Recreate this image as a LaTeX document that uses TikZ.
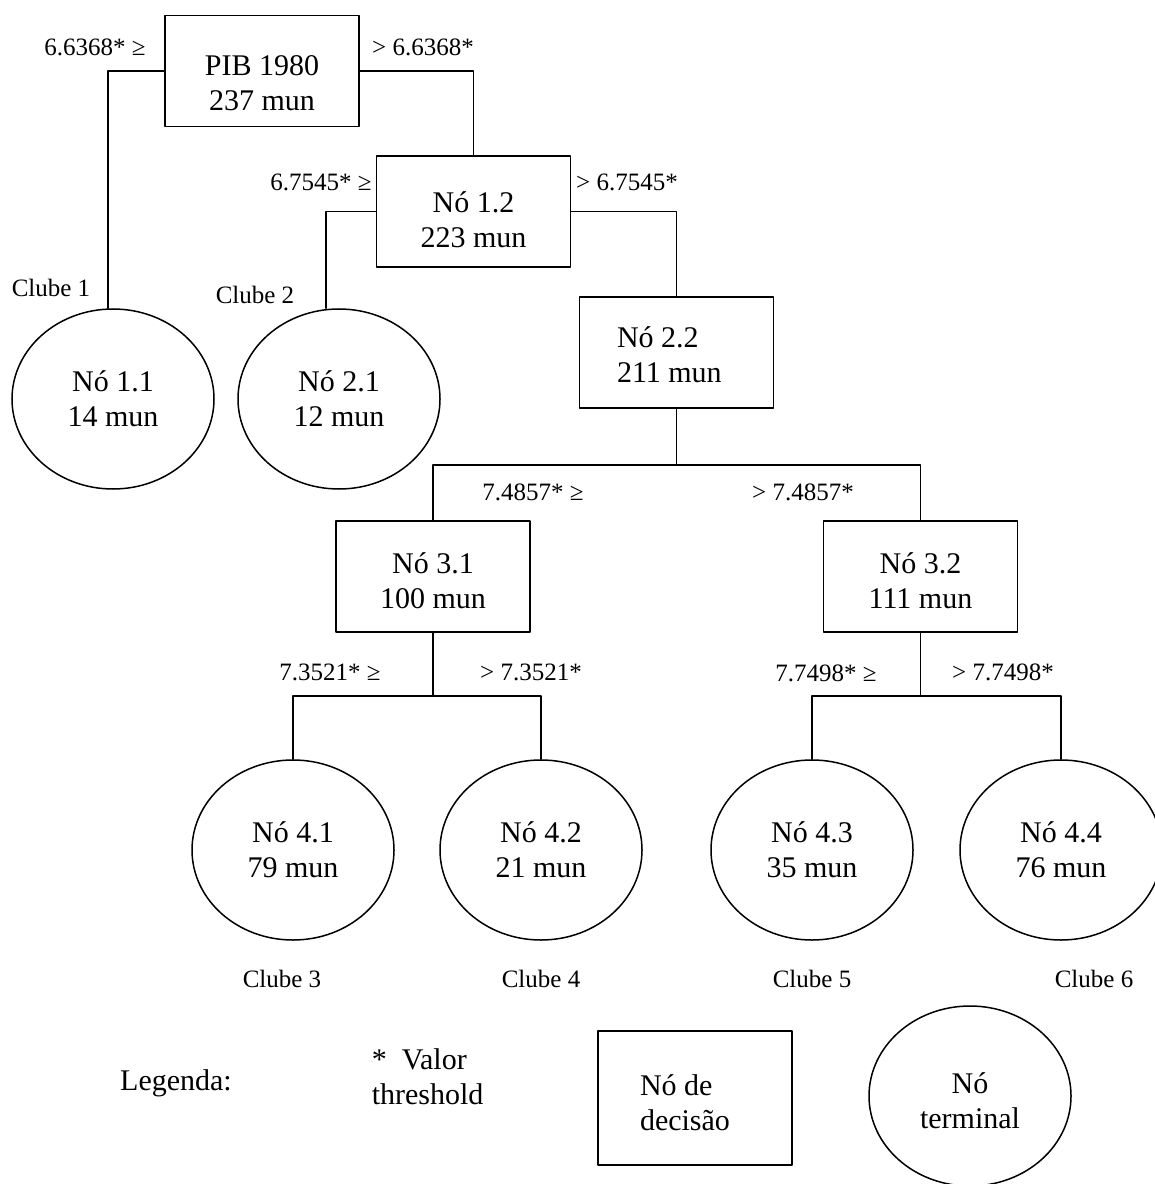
\documentclass[tikz,border=0pt]{standalone}
\usepackage{fontspec}
\setmainfont{Liberation Serif}
\usetikzlibrary{shapes.geometric}

\begin{document}
\begin{tikzpicture}[line cap=round,line join=round,line width=0.6pt,x=0.4pt,y=-0.4pt,
	decisao/.style={draw,rectangle,minimum width=77.6pt,minimum height=44.4pt,inner sep=0pt,align=center,font=\fontsize{12}{14}\selectfont},
	terminal/.style={draw,ellipse,minimum width=80.8pt,minimum height=72pt,inner sep=0pt,align=center,font=\fontsize{12}{14}\selectfont},
	limiar/.style={inner sep=0pt,font=\fontsize{10}{12}\selectfont}]
						\useasboundingbox (0,0) rectangle (1154,1184);
						% nos de decisao
						\node[decisao,text height=31.8pt] (pib) at (262,71) {PIB 1980\\237 mun};
						\node[decisao,text height=28.6pt] (n12) at (473.5,211.5) {Nó 1.2\\223 mun};
						\node[decisao,align=flush left,text width=47.6pt,text depth=12.4pt] (n22) at (676.5,352.5) {Nó 2.2\\211 mun};
						\node[decisao,text height=25.4pt] (n31) at (433,576.5) {Nó 3.1\\100 mun};
						\node[decisao,text height=25.4pt] (n32) at (920.5,576.5) {Nó 3.2\\111 mun};
						% nos terminais
						\node[terminal] (n11) at (113,399) {Nó 1.1\\14 mun};
						\node[terminal] (n21) at (339,399) {Nó 2.1\\12 mun};
						\node[terminal] (n41) at (293,850) {Nó 4.1\\79 mun};
						\node[terminal] (n42) at (541,850) {Nó 4.2\\21 mun};
						\node[terminal] (n43) at (812,850) {Nó 4.3\\35 mun};
						\node[terminal] (n44) at (1061,850) {Nó 4.4\\76 mun};
						% ligacoes
						\draw (pib.west) -| ([xshift=-2pt]n11.north);
						\draw (pib.east) -| (n12.north);
						\draw (n12.west) -| ([xshift=-5.2pt]n21.north);
						\draw (n12.east) -| (n22.north);
						\coordinate (j22) at (676.5,465);
						\draw (n22.south) -- (j22);
						\draw (n31.north) |- (j22) -| (n32.north);
						\coordinate (j31) at (433,696);
						\draw (n31.south) -- (j31);
						\draw (n41.north) |- (j31) -| (n42.north);
						\coordinate (j32) at (920.5,696);
						\draw (n32.south) -- (j32);
						\draw (n43.north) |- (j32) -| (n44.north);
						% valores threshold
						\node[limiar] (lim1a) at (95,47) {6.6368* ≥};
						\node[limiar] (lim1b) at (423,47) {> 6.6368*};
						\node[limiar] (lim2a) at (321,182) {6.7545* ≥};
						\node[limiar] (lim2b) at (627,182) {> 6.7545*};
						\node[limiar] (lim3a) at (533,492) {7.4857* ≥};
						\node[limiar] (lim3b) at (803,492) {> 7.4857*};
						\node[limiar] (lim4a) at (330,672) {7.3521* ≥};
						\node[limiar] (lim4b) at (531,672) {> 7.3521*};
						\node[limiar] (lim5a) at (826,673) {7.7498* ≥};
						\node[limiar] (lim5b) at (1003,672) {> 7.7498*};
						% clubes
						\node[limiar] (clube1) at (51,288) {Clube 1};
						\node[limiar] (clube2) at (255,295) {Clube 2};
						\foreach \x/\n in {282/3,541/4,812/5,1094/6}
						\node[limiar] (clube\n) at (\x,979) {Clube \n};
						% legenda
						\node[font=\fontsize{12}{14}\selectfont] (legenda) at (176,1083) {Legenda:};
						\node[anchor=west,align=left,inner sep=0pt,font=\fontsize{12}{14}\selectfont] (valor) at (371,1077) {*~~Valor\\threshold};
						\node[decisao,minimum height=53.6pt,align=flush left,text width=44pt,text depth=10pt] (legdec) at (695,1098) {Nó de\\decisão};
						\node[terminal,text height=26.2pt] (legterm) at (970,1096) {Nó\\terminal};
					\end{tikzpicture}
\end{document}
